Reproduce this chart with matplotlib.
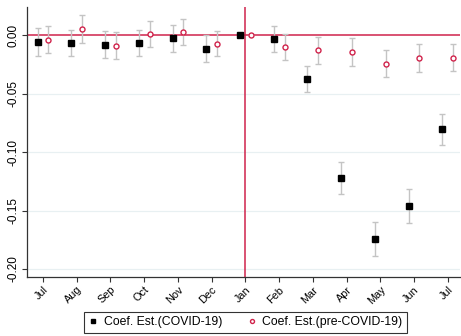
import matplotlib

matplotlib.use("Agg")
import matplotlib.pyplot as plt
import numpy as np

plt.rcParams["font.family"] = ["Liberation Sans", "DejaVu Sans"]

months = ["Jul", "Aug", "Sep", "Oct", "Nov", "Dec", "Jan",
          "Feb", "Mar", "Apr", "May", "Jun", "Jul"]

# coefficient estimates and half-width of the confidence interval, per month
covid_coef = [-0.0057, -0.0066, -0.0080, -0.0066, -0.0026, -0.0115, 0.0,
              -0.0032, -0.0374, -0.1220, -0.1744, -0.1460, -0.0804]
covid_err = [0.0117, 0.0114, 0.0117, 0.0114, 0.0117, 0.0114, 0.0,
             0.0115, 0.0115, 0.0135, 0.0146, 0.0146, 0.0131]
pre_coef = [-0.0037, 0.0054, -0.0089, 0.0011, 0.0028, -0.0074, 0.0,
            -0.0103, -0.0128, -0.0143, -0.0245, -0.0197, -0.0191]
pre_err = [0.0117, 0.0117, 0.0115, 0.0114, 0.0113, 0.0107, 0.0,
           0.0111, 0.0114, 0.0117, 0.0115, 0.0119, 0.0117]

red = "#d0234b"
bar_grey = "#c4c4c4"

x = np.arange(len(months))
offset = 0.16

fig = plt.figure(figsize=(4.61, 3.36), dpi=100)
ax = fig.add_axes([0.0586, 0.1756, 0.939, 0.803])

for yv in [-0.05, -0.10, -0.15, -0.20]:
    ax.axhline(yv, color="#e8f0f2", linewidth=0.9, zorder=0)
ax.axhline(0, color=red, linewidth=1.1, zorder=1)
ax.axvline(6, color=red, linewidth=1.1, zorder=1)

ax.errorbar(x - offset, covid_coef, yerr=covid_err, fmt="none", ecolor=bar_grey,
            elinewidth=1.0, capsize=2.2, capthick=1.0, zorder=2)
ax.errorbar(x + offset, pre_coef, yerr=pre_err, fmt="none", ecolor=bar_grey,
            elinewidth=1.0, capsize=2.2, capthick=1.0, zorder=2)
ax.plot(x - offset, covid_coef, "s", color="black", markersize=4.2, linestyle="none",
        zorder=3, label="Coef. Est.(COVID-19)")
ax.plot(x + offset, pre_coef, "o", markerfacecolor="white", markeredgecolor=red,
        markeredgewidth=1.0, markersize=3.6, linestyle="none", zorder=3,
        label="Coef. Est.(pre-COVID-19)")

ax.set_xlim(-0.474, 12.36)
ax.set_ylim(-0.2068, 0.024)
ax.set_xticks(x)
ax.set_xticklabels(months, rotation=45, ha="right", rotation_mode="anchor", fontsize=7.8)
ax.set_yticks([0.0, -0.05, -0.10, -0.15, -0.20])
ax.set_yticklabels(["0.00", "-0.05", "-0.10", "-0.15", "-0.20"], rotation=90,
                   va="center", fontsize=8.5)
ax.tick_params(axis="both", length=3.5, width=0.8, color="#333333", pad=2)

for side in ["top", "right"]:
    ax.spines[side].set_visible(False)
for side in ["left", "bottom"]:
    ax.spines[side].set_color("#333333")
    ax.spines[side].set_linewidth(0.9)

leg = fig.legend(loc="center", bbox_to_anchor=(0.532, 0.041), ncol=2, fontsize=8.8,
                 frameon=True, fancybox=False, edgecolor="black", columnspacing=2.0,
                 handletextpad=0.4, handlelength=0.9, borderpad=0.35, markerscale=0.8)
leg.get_frame().set_linewidth(0.8)

fig.savefig("out.png", dpi=100)
